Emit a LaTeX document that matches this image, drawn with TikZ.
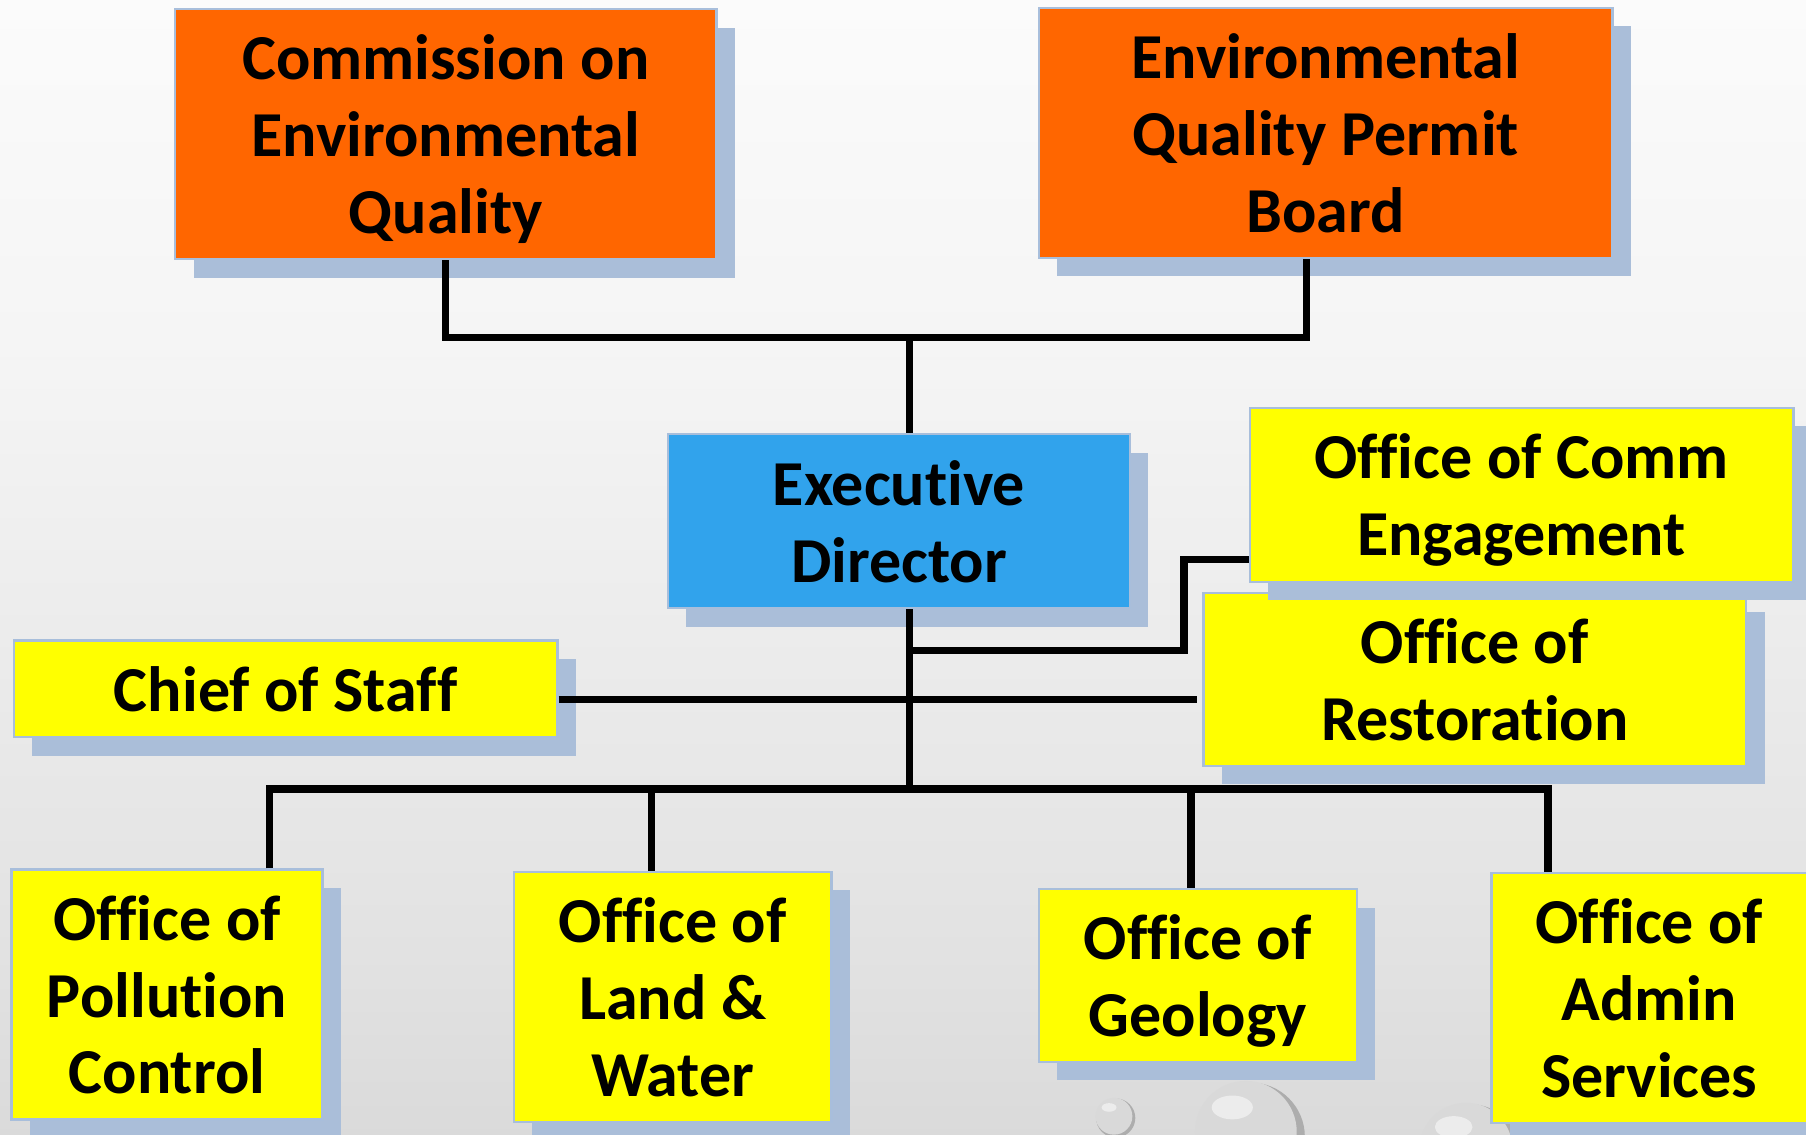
\documentclass[tikz,border=0pt]{standalone}
\usepackage{fontspec}
\setmainfont{Carlito}[Ligatures=NoCommon]
\usetikzlibrary{shadows,calc}
\definecolor{orangec}{HTML}{FF6600}
\definecolor{yellowc}{HTML}{FFFF00}
\definecolor{bluec}{HTML}{31A3EC}
\definecolor{shadowc}{HTML}{AABED9}
\definecolor{borderc}{HTML}{A8BEDB}
\definecolor{bgbot}{HTML}{C2C2C2}
\definecolor{bgmid}{HTML}{E2E2E2}
\definecolor{bgup}{HTML}{F5F5F5}
\pgfdeclareverticalshading{bgshade}{100bp}{color(0bp)=(bgbot); color(33bp)=(bgmid); color(60bp)=(bgup); color(85bp)=(white); color(100bp)=(white)}
\begin{document}
\begin{tikzpicture}[x=0.5pt,y=-0.5pt,
  unitbox/.style={draw=borderc, line width=1pt, inner sep=0pt, align=center,
    font=\fontsize{27.8}{33.3}\selectfont\bfseries, text=black, text depth=0pt,
    general shadow={fill=shadowc, shadow xshift=8pt, shadow yshift=-8pt}},
  orangebox/.style={unitbox, fill=orangec},
  bluebox/.style={unitbox, fill=bluec},
  yellowbox/.style={unitbox, fill=yellowc},
  link/.style={line width=3.1pt, black}]
\useasboundingbox (0,0) rectangle (1568,985);
\clip (0,0) rectangle (1568,985);
\shade[shading=bgshade] (0,0) rectangle (1568,985);
% bubbles
\foreach \cx/\cy/\r in {968/970/8.5, 1084/985/23.5, 1275/1000/21.5}{
  \fill[black!32] ([xshift=0.04*\r pt, yshift=-0.04*\r pt]\cx,\cy) circle[radius=\r pt];
  \shade[inner color=white!85!black, outer color=black!15] ([xshift=-0.05*\r pt, yshift=0.05*\r pt]\cx,\cy) circle[radius=0.94*\r pt];
  \fill[white, opacity=0.5] ([xshift=-0.3*\r pt, yshift=0.5*\r pt]\cx,\cy) ellipse[x radius=0.38*\r pt, y radius=0.22*\r pt];
}
% boxes
\node[orangebox, minimum width=235pt, minimum height=108.5pt] (ceq) at (387,116.5) {Commission on\\Environmental\\Quality};
\node[orangebox, minimum width=249pt, minimum height=108.5pt] (eqpb) at (1151,115.5) {Environmental\\Quality Permit\\Board};
\node[bluebox, minimum width=200.5pt, minimum height=75.5pt] (exec) at (780.5,452.5) {Executive\\Director};
\node[yellowbox, minimum width=235.5pt, minimum height=75pt] (rest) at (1280.5,590) {Office of\\Restoration};
\node[yellowbox, minimum width=236pt, minimum height=75.5pt] (comm) at (1321,429.5) {Office of Comm\\Engagement};
\node[yellowbox, minimum width=236pt, minimum height=42pt] (chief) at (248,598) {Chief of Staff};
\node[yellowbox, minimum width=135pt, minimum height=108.5pt] (poll) at (145,863.5) {Office of\\Pollution\\Control};
\node[yellowbox, minimum width=138pt, minimum height=108.5pt] (land) at (584,865.5) {Office of\\Land \&\\Water};
\node[yellowbox, minimum width=138pt, minimum height=75pt] (geo) at (1040,847) {Office of\\Geology};
\node[yellowbox, minimum width=137pt, minimum height=108.5pt] (admin) at (1432,866.5) {Office of\\Admin\\Services};
% junctions
\coordinate (tj) at (790,293);
\coordinate (ej) at (1134,293);
\coordinate (cj) at (790,565);
\coordinate (ck) at (1028,486);
\coordinate (cs) at ([yshift=-4.5pt]chief.east);
\coordinate (bj) at (790,685);
\coordinate (d1) at (234,685);
\coordinate (d2) at (566,685);
\coordinate (d3) at (1034,685);
\coordinate (d4) at (1344,685);
% connectors
\draw[link] (ceq.south) |- (ej) -- (ej |- eqpb.south);
\draw[link] (tj) -- (tj |- exec.north);
\draw[link] (exec.south -| bj) -- (bj);
\draw[link] (cj) -| (ck) -- (ck -| comm.west);
\draw[link, shorten >=2.5pt] (cs) -- (cs -| rest.west);
\draw[link] (poll.north -| d1) -- (d1) -- (d4) -- (d4 |- admin.north);
\draw[link] (d2) -- (d2 |- land.north);
\draw[link] (d3) -- (d3 |- geo.north);
\end{tikzpicture}
\end{document}
